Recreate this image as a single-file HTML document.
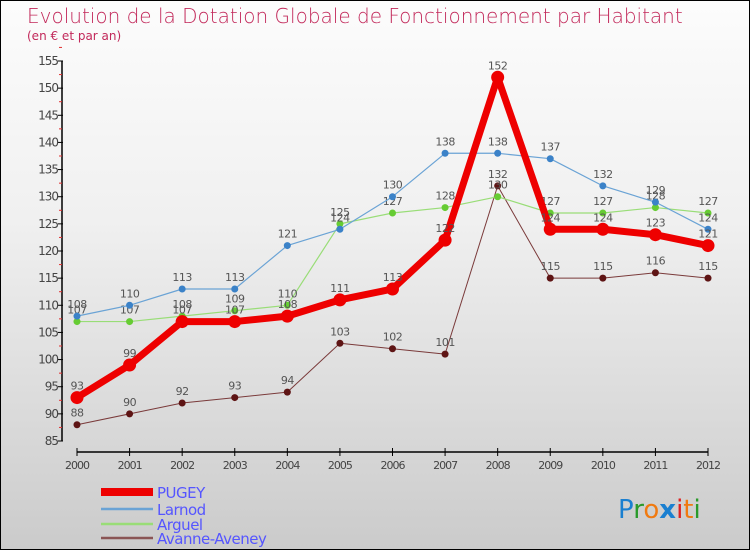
<!DOCTYPE html>
<html><head><meta charset="utf-8"><style>
body{margin:0}
#c{width:750px;height:550px;position:relative;overflow:hidden;box-sizing:border-box;border:1px solid #000;background:linear-gradient(#fcfcfc,#f0f0f0 40%,#cbcbcb);font-family:"DejaVu Sans","Liberation Sans",sans-serif}
text{font-family:"DejaVu Sans","Liberation Sans",sans-serif}
</style></head><body>
<div id="c">
<svg id="s" width="750" height="550">
<text x="26" y="22" font-size="20" fill="#c2285a" style="font-weight:200">Evolution de la Dotation Globale de Fonctionnement par Habitant</text>
<text x="26" y="39" font-size="12" fill="#c2285a">(en € et par an)</text>
<text x="617" y="517" font-size="26"><tspan fill="#1a7fd0">P</tspan><tspan fill="#2a9a2a">r</tspan><tspan fill="#f07a10">o</tspan><tspan fill="#1a7fd0" font-weight="bold">x</tspan><tspan fill="#e02020">i</tspan><tspan fill="#f07a10">t</tspan><tspan fill="#2a9a2a">i</tspan></text>
</svg>
</div>
<script>
const years=[2000,2001,2002,2003,2004,2005,2006,2007,2008,2009,2010,2011,2012];
const yTicks=[85,90,95,100,105,110,115,120,125,130,135,140,145,150,155];
const pugey=[93,99,107,107,108,111,113,122,152,124,124,123,121];
const larnod=[108,110,113,113,121,124,130,138,138,137,132,129,124];
const arguel=[107,107,108,109,110,125,127,128,130,127,127,128,127];
const avanne=[88,90,92,93,94,103,102,101,132,115,115,116,115];
const seriesNames=["PUGEY","Larnod","Arguel","Avanne-Aveney"];
const svg=document.getElementById('s');const NS='http://www.w3.org/2000/svg';
const X=i=>76+i*(707-76)/(years.length-1);
const Y=v=>440-(v-85)*(440-60)/(155-85);
function mk(t,a,p){const e=document.createElementNS(NS,t);for(const k in a)e.setAttribute(k,a[k]);(p||svg).appendChild(e);return e;}
const ax=mk('g',{});


mk('line',{x1:61,y1:Y(155),x2:61,y2:Y(85),stroke:'#000','stroke-width':1.5},ax);
mk('line',{x1:76,y1:451,x2:707,y2:451,stroke:'#000','stroke-width':1.5},ax);
yTicks.forEach(v=>{mk('line',{x1:57,y1:Y(v),x2:62,y2:Y(v),stroke:'#000'},ax);
mk('line',{x1:58,y1:Y(v+2.5),x2:61,y2:Y(v+2.5),stroke:'#e03030'},ax);
const t=mk('text',{x:57,y:Y(v)+4,'font-size':12,fill:'#444','text-anchor':'end','letter-spacing':'-1'},ax);t.textContent=v;

});
years.forEach((yr,i)=>{mk('line',{x1:X(i),y1:447,x2:X(i),y2:455,stroke:'#000'},ax);
const t=mk('text',{x:X(i),y:468,'font-size':11,fill:'#444','text-anchor':'middle','letter-spacing':'-1'},ax);t.textContent=yr;

});
const defs=[[avanne,'#7a3a3a','#5e1414',1,3.5],[arguel,'#99dd77','#66cc33',1.2,3.5],[larnod,'#6aa3d5','#3b82c8',1.2,3.5],[pugey,'#ee0000','#ee0000',7,6.5]];
const names={0:'avanne-aveney',1:'arguel',2:'larnod',3:'pugey'};
defs.forEach((d,si)=>{const g=mk('g',{});


mk('polyline',{points:d[0].map((v,i)=>X(i)+','+Y(v)).join(' '),fill:'none',stroke:d[1],'stroke-width':d[3],'stroke-linejoin':'round'},g);
d[0].forEach((v,i)=>{const c=mk('circle',{cx:X(i),cy:Y(v),r:d[4],fill:d[2]},g);


const t=mk('text',{x:X(i),y:Y(v)-8,'font-size':11,fill:'#555','text-anchor':'middle','letter-spacing':'-0.5'},g);t.textContent=v;

});});
const lg=mk('g',{});


const lcol=['#ee0000','#6aa3d5','#99dd77','#8a5555'],lw=[8,2.5,2.5,2.5],ly=[491,508,523,537];
seriesNames.forEach((n,i)=>{mk('line',{x1:100,y1:ly[i],x2:152,y2:ly[i],stroke:lcol[i],'stroke-width':lw[i]},lg);
const t=mk('text',{x:156,y:ly[i]+6,'font-size':15,fill:'#5555ff','letter-spacing':'-0.5'},lg);t.textContent=n;

});
</script>
</body></html>
